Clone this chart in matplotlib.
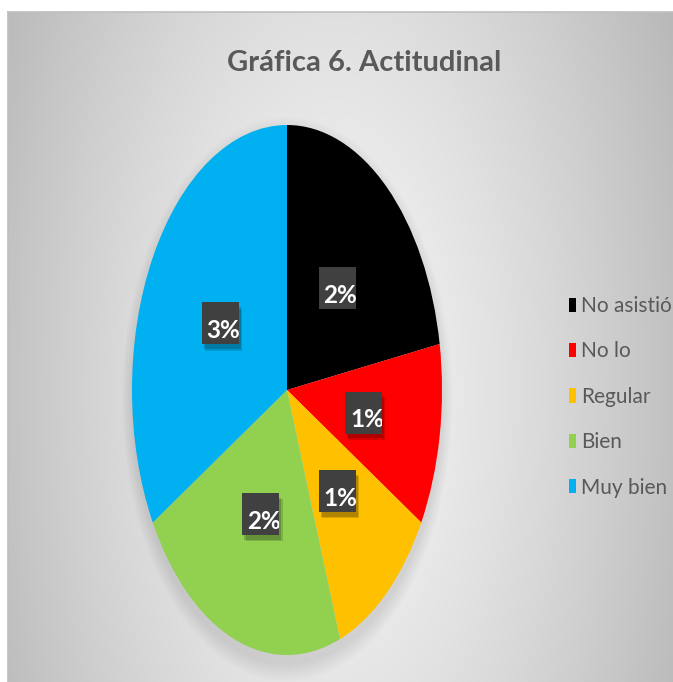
import numpy as np
import matplotlib
matplotlib.use("Agg")
import matplotlib.pyplot as plt
from matplotlib.patches import Rectangle, Ellipse, Patch
from matplotlib.offsetbox import DrawingArea, AnnotationBbox
from matplotlib.text import Text

W, H = 673, 682

# data
categories = ["No asistió", "No lo", "Regular", "Bien", "Muy bien"]
values = [2, 1, 1, 2, 3]
data_labels = ["2%", "1%", "1%", "2%", "3%"]
colors = ["#000000", "#FF0000", "#FFC000", "#92D050", "#00B0F0"]
title = "Gráfica 6. Actitudinal"

plt.rcParams['font.family'] = ['Lato', 'DejaVu Sans']

fig = plt.figure(figsize=(W / 100, H / 100), dpi=100)
fig.patch.set_facecolor("white")

# chart area with radial grey gradient
bg = fig.add_axes([8 / W, -0.01, 1.0, (H - 12) / H + 0.01])
gy, gx = np.mgrid[0:300, 0:300]
px = 8 + gx / 299 * 673
py = 12 + gy / 299 * 676
r = np.sqrt(((px - 335) / 335) ** 2 + ((py - 390) / 720) ** 2)
shade = 246 - 52 * np.clip(r, 0, 1.2) ** 1.3
img = np.dstack([shade, shade, shade]) / 255.0
bg.imshow(np.clip(img, 0, 1), aspect="auto", extent=(0, 1, 0, 1), interpolation="bilinear")
bg.set_xlim(0, 1)
bg.set_ylim(0, 1)
bg.set_xticks([])
bg.set_yticks([])
for s in bg.spines.values():
    s.set_color("#bfbfbf")
    s.set_linewidth(1.2)

# pie drawn as an ellipse (axes not equal aspect)
ax = fig.add_axes([132 / W, (H - 655) / H, 310 / W, 530 / H])
ax.patch.set_alpha(0)

# soft shadow under the pie
for i in range(12):
    sc = 1.0 + 0.006 * i
    ax.add_patch(Ellipse((0.0, -0.035), 2 * sc, 2 * sc, facecolor="black",
                         alpha=0.009, edgecolor="none", clip_on=False, zorder=0))

wedges, _ = ax.pie(values, colors=colors, startangle=90, counterclock=False,
                   radius=1, wedgeprops={"linewidth": 0, "antialiased": True})
ax.set_xlim(-1, 1)
ax.set_ylim(-1, 1)
ax.set_aspect("auto")
ax.axis("off")

# data labels: dark boxes that clip their text
bw, bh = 37 / 1.389, 42 / 1.389
for w, lab in zip(wedges, data_labels):
    mid = np.deg2rad((w.theta1 + w.theta2) / 2)
    x, y = 0.5 * np.cos(mid), 0.5 * np.sin(mid)
    da = DrawingArea(bw + 4, bh + 4, 0, 0, clip=False)
    da.add_artist(Rectangle((2.5, -0.5), bw, bh, facecolor="black", alpha=0.15, edgecolor="none"))
    da.add_artist(Rectangle((1.5, 0.5), bw, bh, facecolor="black", alpha=0.18, edgecolor="none"))
    box = Rectangle((0, 4), bw, bh, facecolor="#404040", edgecolor="none")
    da.add_artist(box)
    t = Text(3.6, 8.6, lab, ha="left", va="baseline", color="white",
             fontsize=17.5, fontweight="bold", fontfamily="Lato")
    da.add_artist(t)
    t.set_clip_path(box)
    ab = AnnotationBbox(da, (x, y), xycoords="data", frameon=False, pad=0,
                        box_alignment=(0.43, 0.55), zorder=5)
    ax.add_artist(ab)

# legend
handles = [Patch(facecolor=c, edgecolor="none") for c in colors]
leg = ax.legend(handles, categories, loc="upper left",
                bbox_to_anchor=(569 / W, 1 - 296 / H), bbox_transform=fig.transFigure,
                frameon=False, fontsize=15, handlelength=0.34, handleheight=0.67,
                handletextpad=0.25, labelspacing=1.22, borderaxespad=0, borderpad=0,
                labelcolor="#595959")

fig.text(364 / W, 1 - 63 / H, title, ha="center", va="center", fontsize=21,
         fontweight="bold", color="#595959")

fig.savefig("out.png", dpi=100)
